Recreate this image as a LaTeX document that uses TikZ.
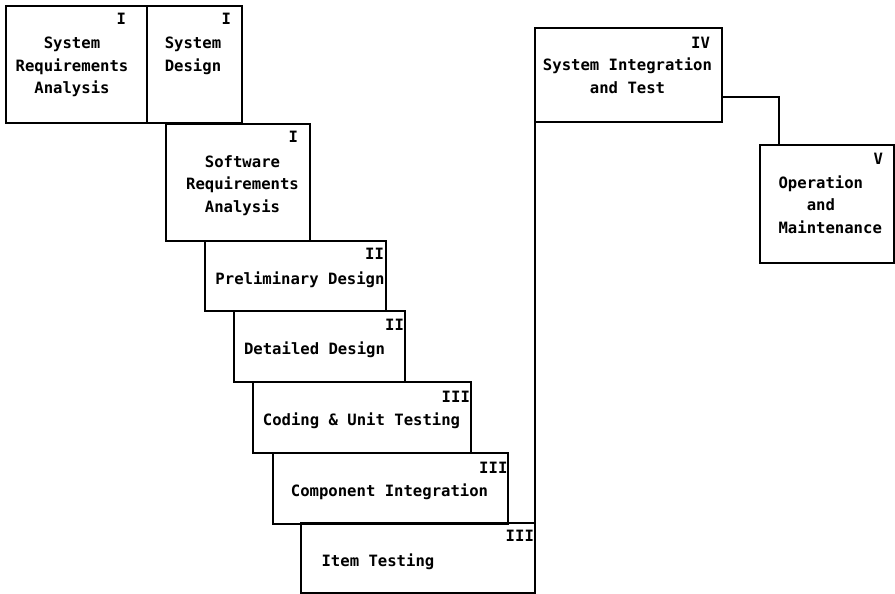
\documentclass[tikz,border=0pt]{standalone}
\usepackage{fontspec}
\setmonofont{DejaVu Sans Mono}

\begin{document}
\begin{tikzpicture}[x=1pt, y=-1pt, line width=1.2pt,
    font=\ttfamily\bfseries\fontsize{15.6}{22.5}\selectfont,
    stage/.style={draw, inner sep=0pt, outer sep=0pt, anchor=north west},
    caption/.style={anchor=base, align=center, inner sep=0pt},
    phase/.style={anchor=north east, inner sep=0pt}]
    \useasboundingbox (0,0) rectangle (895,594);

    % the staircase of stages
    \node[stage, minimum width=141pt, minimum height=117pt] (sysreq)  at (6,6)     {};
    \node[stage, minimum width=95pt,  minimum height=117pt] (sysdes)  at (147,6)   {};
    \node[stage, minimum width=144pt, minimum height=117pt] (swreq)   at (166,124) {};
    \node[stage, minimum width=181pt, minimum height=70pt]  (prelim)  at (205,241) {};
    \node[stage, minimum width=171pt, minimum height=71pt]  (detail)  at (234,311) {};
    \node[stage, minimum width=218pt, minimum height=71pt]  (coding)  at (253,382) {};
    \node[stage, minimum width=235pt, minimum height=71pt]  (integ)   at (273,453) {};
    \node[stage, minimum width=234pt, minimum height=70pt]  (itest)   at (301,523) {};
    \node[stage, minimum width=187pt, minimum height=94pt]  (systest) at (535,28)  {};
    \node[stage, minimum width=134pt, minimum height=118pt] (operate) at (760,145) {};

    % stage names (base sits on the last line)
    \node[caption] (sysreq-text) at ([xshift=-4.5pt, yshift=-88pt]sysreq.north) {System\\Requirements\\Analysis};
    \node[caption] (sysdes-text) at ([xshift=-1.5pt, yshift=-65.5pt]sysdes.north) {System\\Design};
    \node[caption] (swreq-text)  at ([xshift=4.5pt, yshift=-88pt]swreq.north)   {Software\\Requirements\\Analysis};
    \node[caption] (prelim-text) at ([xshift=4.5pt, yshift=-43pt]prelim.north)  {Preliminary Design};
    \node[caption] (detail-text) at ([xshift=-5pt, yshift=-43pt]detail.north)   {Detailed Design};
    \node[caption] (coding-text) at ([xshift=-0.5pt, yshift=-43pt]coding.north) {Coding \& Unit Testing};
    \node[caption] (integ-text)  at ([xshift=-1pt, yshift=-43pt]integ.north)    {Component Integration};
    \node[caption, anchor=base west] (itest-text) at ([xshift=20pt, yshift=-43pt]itest.north west) {Item Testing};
    \node[caption] (systest-text) at ([xshift=-1pt, yshift=-65.5pt]systest.north) {System Integration\\and Test};
    \node[caption, anchor=base west, align=left] (operate-text) at ([xshift=18pt, yshift=-88pt]operate.north west) {Operation\\\phantom{Ope}and\\Maintenance};

    % phase numbers
    \node[phase] (sysreq-no)  at ([xshift=-20.5pt, yshift=-7pt]sysreq.north east)  {I};
    \node[phase] (sysdes-no)  at ([xshift=-10.5pt, yshift=-7pt]sysdes.north east)  {I};
    \node[phase] (swreq-no)   at ([xshift=-11.5pt, yshift=-7pt]swreq.north east)   {I};
    \node[phase] (prelim-no)  at ([xshift=-1.5pt, yshift=-7pt]prelim.north east)   {II};
    \node[phase] (detail-no)  at ([xshift=-0.5pt, yshift=-8pt]detail.north east)   {II};
    \node[phase] (coding-no)  at ([xshift=-0.5pt, yshift=-9pt]coding.north east)   {III};
    \node[phase] (integ-no)   at ([xshift=0pt, yshift=-9pt]integ.north east)       {III};
    \node[phase] (itest-no)   at ([xshift=-0.5pt, yshift=-7pt]itest.north east)    {III};
    \node[phase] (systest-no) at ([xshift=-11.5pt, yshift=-9pt]systest.north east) {IV};
    \node[phase] (operate-no) at ([xshift=-10.5pt, yshift=-8pt]operate.north east) {V};

    % connectors
    \draw (systest.south west) -- (itest.north east);
    \draw ([yshift=-22pt]systest.east) -| ([xshift=19pt]operate.north west);
\end{tikzpicture}
\end{document}
